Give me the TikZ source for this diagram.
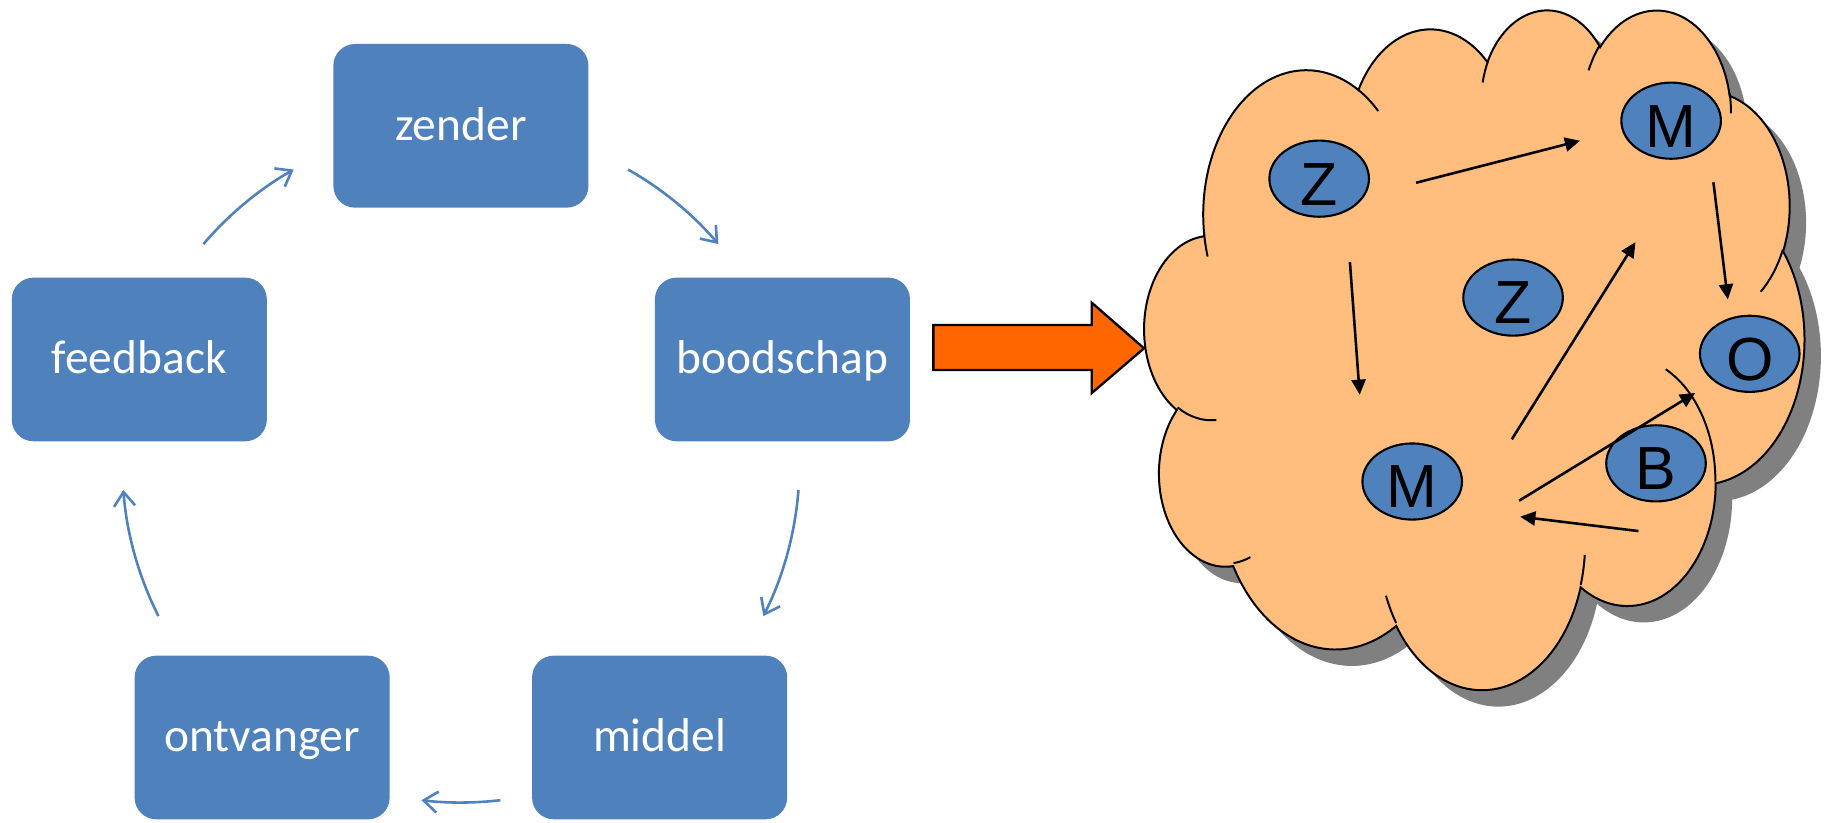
\documentclass[tikz,border=0pt]{standalone}
\usepackage{fontspec}
\setmainfont{Carlito}
\newfontfamily\cellfont{Liberation Sans}
\usetikzlibrary{arrows.meta,shapes.geometric,calc}
\definecolor{boxblue}{HTML}{4F81BD}
\definecolor{cloudfill}{HTML}{FFBE7D}
\definecolor{blockorange}{HTML}{FF6600}
\definecolor{shadowgray}{HTML}{808080}
% elliptical arc given as in DrawingML (visual angles) -> TikZ parametric arc
\newcommand\defcloudarc[5]{%
  \pgfmathsetmacro\cloudtA{atan2((#2)*sin(#4),(#3)*cos(#4))}%
  \pgfmathsetmacro\cloudtB{atan2((#2)*sin((#4)+(#5)),(#3)*cos((#4)+(#5)))}%
  \pgfmathsetmacro\cloudtD{mod(\cloudtB-\cloudtA+720,360)}%
  \expandafter\xdef\csname cArc#1\endcsname{arc[x radius=#2, y radius=#3, start angle=\cloudtA, delta angle=\cloudtD]}%
}
\defcloudarc{A}{675.3}{919.0}{-190.48748}{123.78053}
\defcloudarc{B}{533.3}{726.7}{-144.10238}{89.94523}
\defcloudarc{C}{436.5}{594.5}{-145.80792}{99.72302}
\defcloudarc{D}{485.7}{659.5}{-130.98607}{117.24173}
\defcloudarc{E}{533.3}{727.3}{-78.70888}{109.02692}
\defcloudarc{F}{677.5}{922.0}{-46.26725}{130.269}
\defcloudarc{G}{578.5}{786.7}{0.62502}{114.03333}
\defcloudarc{H}{675.2}{921.5}{22.4516}{115.17255}
\defcloudarc{I}{772.0}{1054.3}{66.24263}{75.72}
\defcloudarc{J}{436.0}{591.8}{-274.94208}{146.73557}
\defcloudarc{K}{434.5}{594.5}{-246.8285}{152.51885}
\defcloudarc{a}{434.5}{594.5}{86.742}{26.4295}
\defcloudarc{b}{436.0}{591.8}{73.61047}{11.44747}
\defcloudarc{c}{675.2}{921.5}{137.62415}{14.0811}
\defcloudarc{d}{675.2}{921.5}{6.45327}{15.99835}
\defcloudarc{e}{578.5}{786.7}{-70.29235}{70.91737}
\defcloudarc{f}{533.3}{727.3}{30.31803}{27.7515}
\defcloudarc{g}{485.7}{659.5}{-13.74433}{14.8589}
\defcloudarc{h}{485.7}{659.5}{-149.18145}{18.19537}
\defcloudarc{i}{436.5}{594.5}{-163.49427}{17.68635}
\defcloudarc{j}{675.3}{919.0}{-66.70695}{12.31935}
\defcloudarc{k}{675.3}{919.0}{157.65435}{11.85817}
\def\cloudpath{(390,1437) \cArcA \cArcB \cArcC \cArcD \cArcE \cArcF \cArcG \cArcH \cArcI \cArcJ \cArcK -- cycle}
\tikzset{
  stage/.style={rectangle, rounded corners=18.5pt, fill=boxblue, minimum width=217.7pt,
    minimum height=139.7pt, inner sep=0pt, text=white, font=\fontsize{40.5}{48}\selectfont,
    text height=30pt, text depth=5.8pt},
  cycarrow/.style={draw=boxblue, line width=2.2pt, -{Straight Barb[length=12pt,width=18pt]}},
  cell/.style={ellipse, draw=black, line width=1.8pt, fill=boxblue, minimum width=85pt,
    minimum height=65pt, inner sep=0pt, font=\cellfont\fontsize{52}{52}\selectfont,
    text height=45pt, text depth=0pt},
  flow/.style={draw=black, line width=2.2pt, -{Triangle[length=13pt,width=12pt]}},
  cloudline/.style={draw=black, line width=1.7pt},
}
\begin{document}
\begin{tikzpicture}[x=1pt,y=-1pt]
\useasboundingbox (0,0) rectangle (1568,701.7);
% ---------- cycle ----------
\coordinate (cyc) at (393.4,396);
\node[stage] (zender)    at ($(cyc)+(-90:288.6)$) {zender};
\node[stage] (boodschap) at ($(cyc)+(-18:288.6)$) {boodschap};
\node[stage] (middel)    at ($(cyc)+(54:288.6)$)  {middel};
\node[stage] (ontvanger) at ($(cyc)+(126:288.6)$) {ontvanger};
\node[stage] (feedback)  at ($(cyc)+(198:288.6)$) {feedback};
\draw[cycarrow] ($(cyc)+(-60.4:289)$) arc[start angle=-60.4, end angle=-40.5, radius=289];
\draw[cycarrow] ($(cyc)+(4.4:289)$) arc[start angle=4.4, end angle=26.7, radius=289];
\draw[cycarrow] ($(cyc)+(83.3:289)$) arc[start angle=83.3, end angle=96.7, radius=289];
\draw[cycarrow] ($(cyc)+(153.3:289)$) arc[start angle=153.3, end angle=175.6, radius=289];
\draw[cycarrow] ($(cyc)+(220.5:289)$) arc[start angle=220.5, end angle=240.4, radius=289];
% ---------- block arrow ----------
\draw[fill=blockorange, line width=2pt, line join=miter]
  (796.7,277.4) -- (931.9,277.4) -- (931.9,258.4) -- (976.5,297.3)
  -- (931.9,335.5) -- (931.9,315.8) -- (796.7,315.8) -- cycle;
% ---------- cloud ----------
\begin{scope}[shift={(977pt,-7pt)}, x=0.13032pt, y=-0.13426pt]
  \begin{scope}[shift={(14pt,-14pt)}]
    \fill[shadowgray] \cloudpath;
  \end{scope}
  \filldraw[fill=cloudfill, cloudline] \cloudpath;
  \draw[cloudline] (469.3,2617.7) \cArca;
  \draw[cloudline] (692.8,3489.9) \cArcb;
  \draw[cloudline] (1647.8,3909.0) \cArcc;
  \draw[cloudline] (2882.7,3475.1) \cArcd;
  \draw[cloudline] (3412.9,2295.4) \cArce;
  \draw[cloudline] (4179.8,1535.4) \cArcf;
  \draw[cloudline] (3832.4,542.6) \cArcg;
  \draw[cloudline] (2907.8,395.2) \cArch;
  \draw[cloudline] (2214.1,472.0) \cArci;
  \draw[cloudline] (1400.0,519.2) \cArcj;
  \draw[cloudline] (412.7,1578.9) \cArck;
\end{scope}
% ---------- cloud members ----------
\node[cell] (z1) at (1126,152.5) {Z};
\node[cell] (m1) at (1426.4,103) {M};
\node[cell] (z2) at (1291.5,254) {Z};
\node[cell] (o1) at (1493.5,302) {O};
\node[cell] (m2) at (1205.4,411) {M};
\node[cell] (b1) at (1413.5,395.5) {B};
\coordinate (z1m1s) at (1208.7,156);   \coordinate (z1m1e) at (1348.7,120.1);
\coordinate (z1m2s) at (1152.2,223.5); \coordinate (z1m2e) at (1160.6,337);
\coordinate (m1o1s) at (1462.5,155.6); \coordinate (m1o1e) at (1474.8,255.6);
\coordinate (m2m1s) at (1290.4,375);   \coordinate (m2m1e) at (1396,206.6);
\coordinate (m2o1s) at (1296.6,427.4); \coordinate (m2o1e) at (1447,335.4);
\coordinate (b1m2s) at (1398.5,453.3); \coordinate (b1m2e) at (1297.5,441);
\draw[flow] (z1m1s) -- (z1m1e);
\draw[flow] (z1m2s) -- (z1m2e);
\draw[flow] (m1o1s) -- (m1o1e);
\draw[flow] (m2m1s) -- (m2m1e);
\draw[flow] (m2o1s) -- (m2o1e);
\draw[flow] (b1m2s) -- (b1m2e);
\end{tikzpicture}
\end{document}
